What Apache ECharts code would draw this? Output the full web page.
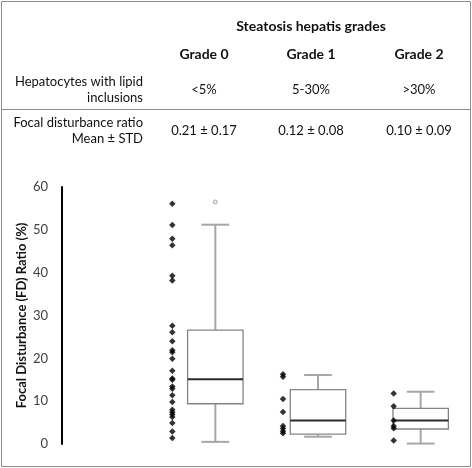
<!DOCTYPE html>
<html>
<head>
<meta charset="utf-8">
<script src="https://cdn.jsdelivr.net/npm/echarts@6/dist/echarts.min.js"></script>
<style>
html,body{margin:0;padding:0;background:#fff;}
#c{width:472px;height:468px;}
</style>
</head>
<body>
<div id="c"></div>
<script>
const grades = ['Grade 0', 'Grade 1', 'Grade 2'];
const lipidShare = ['<5%', '5-30%', '>30%'];
const fdMeanStd = ['0.21 ± 0.17', '0.12 ± 0.08', '0.10 ± 0.09'];
const yMin = 0, yMax = 60, yStep = 10;

const grade0Points = [56.1, 51.1, 47.9, 46.4, 39.3, 38.2, 27.6, 26.1, 24.0, 21.9, 21.4, 19.9, 17.1, 15.3, 15.0, 13.4, 12.9, 11.4, 9.8, 8.0, 7.4, 6.9, 6.3, 4.9, 2.9, 1.4];
const grade1Points = [16.3, 15.7, 10.5, 7.5, 4.2, 3.6, 3.0, 2.5];
const grade2Points = [11.8, 8.8, 5.5, 4.2, 3.7, 0.8];

// [min, q1, median, q3, max]
const grade0Box = [0.5, 9.4, 15.1, 26.6, 51.2];
const grade1Box = [1.7, 2.3, 5.5, 12.7, 16.1];
const grade2Box = [0.1, 3.5, 5.5, 8.3, 12.2];
const outlierGrade = [0];
const outlierValue = [56.5];

const FONT = 'Lato, "Open Sans", sans-serif';

const boxData = [grade0Box, grade1Box, grade2Box].map((b, i) => [i].concat(b));
const pointData = [];
[grade0Points, grade1Points, grade2Points].forEach((arr, i) => arr.forEach(v => pointData.push([i, v])));
const outlierData = outlierGrade.map((g, i) => [g, outlierValue[i]]);

function renderBox(params, api) {
  const idx = api.value(0);
  const pMin = api.coord([idx, api.value(1)]);
  const pQ1 = api.coord([idx, api.value(2)]);
  const pMed = api.coord([idx, api.value(3)]);
  const pQ3 = api.coord([idx, api.value(4)]);
  const pMax = api.coord([idx, api.value(5)]);
  const band = api.size([1, 0])[0];
  const bw = band * 0.54;
  const cw = band * 0.27;
  const cx = pMed[0];
  const whisk = {stroke: '#a6a6a6', lineWidth: 2};
  return {
    type: 'group',
    children: [
      {type: 'line', shape: {x1: cx, y1: pMax[1], x2: cx, y2: pQ3[1]}, style: whisk},
      {type: 'line', shape: {x1: cx, y1: pQ1[1], x2: cx, y2: pMin[1]}, style: whisk},
      {type: 'line', shape: {x1: cx - cw / 2, y1: pMax[1], x2: cx + cw / 2, y2: pMax[1]}, style: whisk},
      {type: 'line', shape: {x1: cx - cw / 2, y1: pMin[1], x2: cx + cw / 2, y2: pMin[1]}, style: whisk},
      {type: 'rect', shape: {x: cx - bw / 2, y: pQ3[1], width: bw, height: pQ1[1] - pQ3[1]},
        style: {fill: '#fff', stroke: '#858585', lineWidth: 1.3}},
      {type: 'line', shape: {x1: cx - bw / 2, y1: pMed[1], x2: cx + bw / 2, y2: pMed[1]},
        style: {stroke: '#2b2b2b', lineWidth: 2}}
    ]
  };
}

const textEls = [];
function addText(t, x, y, align, bold, size) {
  textEls.push({
    type: 'text', x: x, y: y,
    style: {text: t, align: align, verticalAlign: 'middle', fill: '#111',
      font: (bold ? 'bold ' : '') + size + 'px ' + FONT}
  });
}
const colX = [204, 311, 419];
addText('Steatosis hepatis grades', 311, 26, 'center', true, 14);
grades.forEach((g, i) => addText(g, colX[i], 54, 'center', true, 14));
addText('Hepatocytes with lipid', 143, 82, 'right', false, 13);
addText('inclusions', 143, 98, 'right', false, 13);
lipidShare.forEach((g, i) => addText(g, colX[i], 90, 'center', false, 13));
addText('Focal disturbance ratio', 143, 123, 'right', false, 13);
addText('Mean ± STD', 143, 139, 'right', false, 13);
fdMeanStd.forEach((g, i) => addText(g, colX[i], 131, 'center', false, 13));

const chart = echarts.init(document.getElementById('c'), null, {renderer: 'canvas'});
const yBase = {type: 'value', min: yMin, max: yMax, interval: yStep};
chart.setOption({
  animation: false,
  backgroundColor: '#fff',
  grid: [
    {left: 62, top: 187, bottom: 24, width: 400},
    {left: 164, top: 187, bottom: 24, width: 318},
    {left: 117, top: 187, bottom: 24, width: 332}
  ],
  xAxis: [
    {type: 'category', gridIndex: 0, data: grades, show: false},
    {type: 'category', gridIndex: 1, data: grades, show: false},
    {type: 'category', gridIndex: 2, data: grades, show: false}
  ],
  yAxis: [
    Object.assign({}, yBase, {
      gridIndex: 0,
      name: 'Focal Disturbance (FD) Ratio (%)',
      nameLocation: 'middle', nameRotate: 90, nameGap: 34, nameMoveOverlap: false,
      nameTextStyle: {fontFamily: FONT, fontWeight: 'bold', fontSize: 13, color: '#111'},
      axisLine: {show: true, lineStyle: {color: '#000', width: 2}},
      axisTick: {show: false},
      splitLine: {show: false},
      axisLabel: {fontFamily: FONT, fontSize: 13, color: '#404040', margin: 14}
    }),
    Object.assign({}, yBase, {gridIndex: 1, show: false, splitLine: {show: false}}),
    Object.assign({}, yBase, {gridIndex: 2, show: false, splitLine: {show: false}})
  ],
  graphic: [
    {type: 'rect', shape: {x: 1.5, y: 1.5, width: 469, height: 465}, style: {fill: 'none', stroke: '#8c8c8c', lineWidth: 1}, z: 100},
    {type: 'line', shape: {x1: 1, y1: 109.5, x2: 471, y2: 109.5}, style: {stroke: '#8c8c8c', lineWidth: 1}, z: 100}
  ].concat(textEls),
  series: [
    {type: 'custom', xAxisIndex: 1, yAxisIndex: 1, data: boxData, renderItem: renderBox, clip: false},
    {type: 'scatter', xAxisIndex: 1, yAxisIndex: 1, data: outlierData, symbol: 'circle', symbolSize: 4,
      itemStyle: {color: '#e6e6e6', borderColor: '#9a9a9a', borderWidth: 1}},
    {type: 'scatter', xAxisIndex: 2, yAxisIndex: 2, data: pointData, symbol: 'diamond', symbolSize: [6.5, 6.5],
      itemStyle: {color: '#000'}}
  ]
});
</script>
</body>
</html>
